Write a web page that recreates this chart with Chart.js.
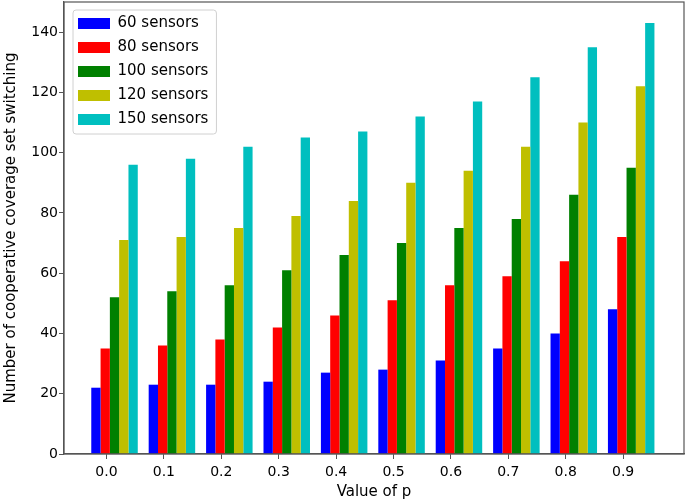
<!DOCTYPE html>
<html>
<head>
    <meta charset="UTF-8">
    <title>Cooperative coverage set switching</title>
    <script src="https://cdn.jsdelivr.net/npm/chart.js"></script>
    <style>
        body { margin: 0; background: #fff; }
        #wrap { width: 685px; height: 502px; }
    </style>
</head>
<body>
<div id="wrap">
    <canvas id="switchChart" width="685" height="502"></canvas>
</div>
<script>
    // values
    const pValues = [0.0, 0.1, 0.2, 0.3, 0.4, 0.5, 0.6, 0.7, 0.8, 0.9];
    const seriesNames = ['60 sensors', '80 sensors', '100 sensors', '120 sensors', '150 sensors'];
    const sensors60 = [22, 23, 23, 24, 27, 28, 31, 35, 40, 48];
    const sensors80 = [35, 36, 38, 42, 46, 51, 56, 59, 64, 72];
    const sensors100 = [52, 54, 56, 61, 66, 70, 75, 78, 86, 95];
    const sensors120 = [71, 72, 75, 79, 84, 90, 94, 102, 110, 122];
    const sensors150 = [96, 98, 102, 105, 107, 112, 117, 125, 135, 143];
    const yTicks = [0, 20, 40, 60, 80, 100, 120, 140];

    const seriesValues = [sensors60, sensors80, sensors100, sensors120, sensors150];
    const colors = ['#0000ff', '#ff0000', '#008000', '#bfbf00', '#00bfbf'];

    // matplotlib put the tick under the 2nd bar, so the group sits a little right of it
    const groupShift = 0.014;
    const axisColor = '#555';
    const tickFont = { family: 'DejaVu Sans', size: 14 };
    const labelFont = { family: 'DejaVu Sans', size: 15 };

    const datasets = seriesValues.map((vals, i) => ({
        label: seriesNames[i],
        data: pValues.map((p, j) => ({ x: p + groupShift, y: vals[j] })),
        backgroundColor: colors[i],
        borderWidth: 0,
        categoryPercentage: 0.81,
        barPercentage: 1.0
    }));

    // box round the plot + legend frame
    const framePlugin = {
        id: 'frame',
        afterLayout(chart) {
            // nudge the legend a bit further into the plot
            chart.legend.left += 5;
            chart.legend.top += 7;
        },
        beforeDraw(chart) {
            const boxes = chart.legend && chart.legend.legendHitBoxes;
            if (!boxes || !boxes.length) return;
            let l = Infinity, t = Infinity, r = -Infinity, b = -Infinity;
            boxes.forEach(h => {
                l = Math.min(l, h.left); t = Math.min(t, h.top);
                r = Math.max(r, h.left + h.width); b = Math.max(b, h.top + h.height);
            });
            const ctx = chart.ctx;
            ctx.save();
            ctx.beginPath();
            ctx.roundRect(l - 5, t - 6, (r - l) + 13, (b - t) + 13, 3);
            ctx.fillStyle = 'rgba(255,255,255,0.8)';
            ctx.fill();
            ctx.strokeStyle = '#d0d0d0';
            ctx.lineWidth = 1;
            ctx.stroke();
            ctx.restore();
        },
        afterDraw(chart) {
            const a = chart.chartArea;
            const ctx = chart.ctx;
            ctx.save();
            ctx.strokeStyle = axisColor;
            ctx.lineWidth = 1.2;
            ctx.strokeRect(a.left, a.top, a.right - a.left, a.bottom - a.top);
            ctx.restore();
        }
    };

    const ctx = document.getElementById('switchChart').getContext('2d');
    new Chart(ctx, {
        type: 'bar',
        data: { datasets: datasets },
        options: {
            responsive: false,
            animation: false,
            layout: { padding: { top: 2, right: 1, left: 0, bottom: 0 } },
            plugins: {
                legend: {
                    position: 'chartArea',
                    align: 'start',
                    labels: {
                        boxWidth: 32,
                        boxHeight: 11,
                        padding: 9,
                        color: '#000',
                        font: labelFont
                    }
                },
                tooltip: { enabled: false }
            },
            scales: {
                x: {
                    type: 'linear',
                    offset: false,
                    min: -0.074,
                    max: 1.006,
                    afterBuildTicks(scale) {
                        scale.ticks = pValues.map(v => ({ value: v }));
                    },
                    afterFit(scale) {
                        scale.height = 48;
                        scale.paddingLeft = 0;
                        scale.paddingRight = 0;
                    },
                    ticks: {
                        color: '#000',
                        font: tickFont,
                        padding: 5,
                        callback: v => Number(v).toFixed(1)
                    },
                    grid: {
                        offset: false,
                        drawOnChartArea: false,
                        drawTicks: true,
                        tickLength: 5,
                        color: axisColor
                    },
                    border: { color: axisColor, width: 1.2 },
                    title: {
                        display: true,
                        text: 'Value of p',
                        color: '#000',
                        font: labelFont,
                        padding: { top: 2, bottom: 1 }
                    }
                },
                y: {
                    min: 0,
                    max: 150,
                    afterBuildTicks(scale) {
                        scale.ticks = yTicks.map(v => ({ value: v }));
                    },
                    afterFit(scale) {
                        scale.width = 64;
                        scale.paddingTop = 0;
                        scale.paddingBottom = 0;
                    },
                    ticks: {
                        color: '#000',
                        font: tickFont,
                        padding: 1
                    },
                    grid: {
                        drawOnChartArea: false,
                        drawTicks: true,
                        tickLength: 5,
                        color: axisColor
                    },
                    border: { color: axisColor, width: 1.2 },
                    title: {
                        display: true,
                        text: 'Number of cooperative coverage set switching',
                        color: '#000',
                        font: labelFont,
                        padding: { top: 2, bottom: 2 }
                    }
                }
            }
        },
        plugins: [framePlugin]
    });
</script>
</body>
</html>
